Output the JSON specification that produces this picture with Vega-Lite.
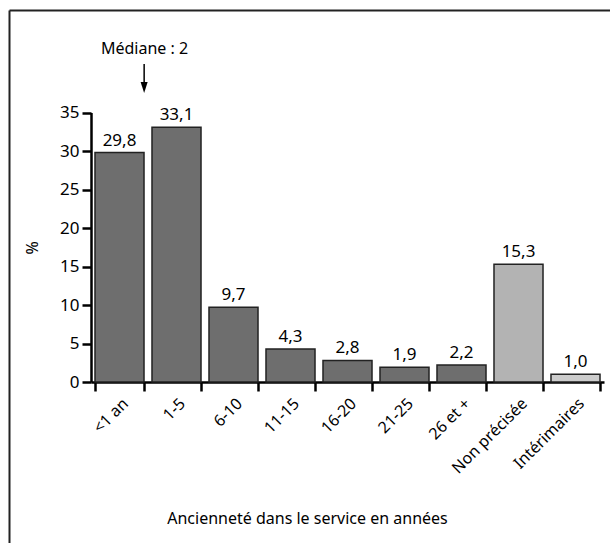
{
  "$schema": "https://vega.github.io/schema/vega-lite/v6.json",
  "autosize": "none",
  "width": 601,
  "height": 533,
  "padding": {"left": 9, "top": 10, "right": 0, "bottom": 0},
  "background": "white",
  "config": {
    "view": {"stroke": null},
    "font": "Noto Sans",
    "locale": {"number": {"decimal": ",", "thousands": " ", "grouping": [3], "currency": ["", " €"]}},
    "axis": {"domainColor": "black", "tickColor": "black", "labelColor": "black", "titleColor": "black", "labelFont": "Noto Sans", "titleFont": "Noto Sans", "titleFontWeight": "normal"}
  },
  "datasets": {
    "barres": [
      {"cat": "<1 an", "val": 29.8, "groupe": "anc"},
      {"cat": "1-5", "val": 33.1, "groupe": "anc"},
      {"cat": "6-10", "val": 9.7, "groupe": "anc"},
      {"cat": "11-15", "val": 4.3, "groupe": "anc"},
      {"cat": "16-20", "val": 2.8, "groupe": "anc"},
      {"cat": "21-25", "val": 1.9, "groupe": "anc"},
      {"cat": "26 et +", "val": 2.2, "groupe": "anc"},
      {"cat": "Non précisée", "val": 15.3, "groupe": "np"},
      {"cat": "Intérimaires", "val": 1.0, "groupe": "int"}
    ],
    "note": [{"texte": "Médiane : 2", "cat": "1-5"}],
    "cadre": [{"c": 0}]
  },
  "resolve": {"scale": {"x": "independent", "y": "independent"}, "axis": {"x": "independent", "y": "independent"}},
  "layer": [
    {
      "layer": [
        {
          "data": {"name": "barres"},
          "mark": {"type": "bar", "stroke": "#222222", "strokeWidth": 1.5},
          "encoding": {
            "x": {
              "field": "cat", "type": "nominal", "sort": null,
              "scale": {"domain": ["<1 an", "1-5", "6-10", "11-15", "16-20", "21-25", "26 et +", "Non précisée", "Intérimaires"], "range": [82, 595], "paddingInner": 0.14, "paddingOuter": 0.07},
              "axis": {
                "orient": "bottom", "offset": -161, "tickBand": "extent",
                "labelAngle": -45, "labelFontSize": 16, "labelPadding": 4,
                "tickSize": 9, "tickWidth": 2.5, "domainWidth": 2.5,
                "title": "Ancienneté dans le service en années", "titleFontSize": 16,
                "titleX": 298, "titleY": 128, "titleAnchor": "middle"
              }
            },
            "y": {
              "field": "val", "type": "quantitative",
              "scale": {"domain": [0, 35], "range": [372, 102.5], "nice": false, "zero": true},
              "axis": {
                "orient": "left", "offset": -82, "values": [0, 5, 10, 15, 20, 25, 30, 35],
                "grid": false, "labelFontSize": 17, "labelPadding": 3,
                "tickSize": 9, "tickWidth": 2.5, "domainWidth": 2.5,
                "title": "%", "titleFontSize": 16, "titlePadding": 19
              }
            },
            "color": {"field": "groupe", "type": "nominal", "legend": null,
              "scale": {"domain": ["anc", "np", "int"], "range": ["#6e6e6e", "#b3b3b3", "#cccccc"]}}
          }
        },
        {
          "data": {"name": "barres"},
          "mark": {"type": "text", "baseline": "bottom", "dy": -3, "fontSize": 17, "color": "black"},
          "encoding": {
            "x": {"field": "cat", "type": "nominal", "sort": null},
            "y": {"field": "val", "type": "quantitative"},
            "text": {"field": "val", "type": "quantitative", "format": ".1f"}
          }
        },
        {
          "data": {"name": "note"},
          "mark": {"type": "text", "fontSize": 16, "color": "black", "baseline": "middle", "dx": -32},
          "encoding": {
            "x": {"field": "cat", "type": "nominal", "sort": null},
            "y": {"datum": 43.2, "type": "quantitative"},
            "text": {"field": "texte", "type": "nominal"}
          }
        },
        {
          "data": {"name": "note"},
          "mark": {"type": "rule", "color": "black", "strokeWidth": 1.5},
          "encoding": {
            "x": {"field": "cat", "type": "nominal", "sort": null, "bandPosition": -0.16},
            "y": {"datum": 41.3, "type": "quantitative"},
            "y2": {"datum": 38.8}
          }
        },
        {
          "data": {"name": "note"},
          "mark": {"type": "point", "shape": "M-0.64,-1L0.64,-1L0,1Z", "filled": true, "color": "black", "size": 121, "opacity": 1, "strokeWidth": 0},
          "encoding": {
            "x": {"field": "cat", "type": "nominal", "sort": null, "bandPosition": -0.16},
            "y": {"datum": 38.25, "type": "quantitative"}
          }
        }
      ]
    },
    {
      "data": {"name": "cadre"},
      "mark": {"type": "point", "opacity": 0},
      "encoding": {
        "x": {"field": "c", "type": "quantitative",
          "scale": {"domain": [0, 1], "range": [0, 700]},
          "axis": {"orient": "top", "offset": 0, "labels": false, "ticks": false, "grid": false, "title": null, "domainColor": "#222222", "domainWidth": 2}},
        "y": {"field": "c", "type": "quantitative",
          "scale": {"domain": [0, 1], "range": [0, 700]},
          "axis": {"orient": "left", "offset": 0, "labels": false, "ticks": false, "grid": false, "title": null, "domainColor": "#222222", "domainWidth": 2}}
      }
    }
  ]
}
